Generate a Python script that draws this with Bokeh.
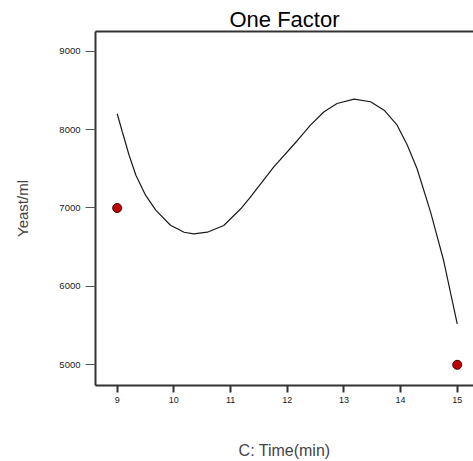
from bokeh.plotting import figure
from bokeh.models import FixedTicker, LinearAxis, Range1d
from bokeh.embed import file_html
from bokeh.resources import INLINE

# Fitted response curve
curve_x = [9.00, 9.09, 9.21, 9.33, 9.50, 9.68, 9.94, 10.18, 10.35, 10.59, 10.88,
           11.18, 11.35, 11.76, 12.18, 12.41, 12.65, 12.88, 13.18, 13.47, 13.71,
           13.94, 14.12, 14.29, 14.53, 14.76, 15.00]
curve_y = [8202, 7972, 7673, 7418, 7163, 6972, 6780, 6691, 6671, 6691, 6777,
           6990, 7138, 7520, 7861, 8056, 8227, 8333, 8388, 8355, 8247,
           8056, 7801, 7504, 6947, 6330, 5523]

# Design points
point_x = [9, 15]
point_y = [7000, 5000]

x_ticks = [9, 10, 11, 12, 13, 14, 15]
y_ticks = [5000, 6000, 7000, 8000, 9000]

FONT = "Liberation Sans"
AX = "#333333"

p = figure(frame_width=378, frame_height=354, output_backend="svg", toolbar_location=None,
           x_range=Range1d(8.617, 15.287), y_range=Range1d(4736, 9251),
           min_border_left=95, min_border_right=0, min_border_top=31, min_border_bottom=76)
p.title.text = "One Factor"
p.title.align = "center"
p.title.text_font = FONT
p.title.text_font_size = "22px"
p.title.text_font_style = "normal"
p.title.text_color = "#000000"
p.title.standoff = 0
p.outline_line_color = None
p.grid.visible = False
p.background_fill_color = "white"

xa = p.xaxis[0]
xa.ticker = FixedTicker(ticks=x_ticks)
xa.axis_label = "C: Time(min)"
xa.axis_label_text_font = FONT
xa.axis_label_text_font_size = "16px"
xa.axis_label_text_font_style = "normal"
xa.axis_label_standoff = 36
xa.major_label_text_font = FONT
xa.major_label_text_font_size = "9px"
xa.major_label_text_color = "#222222"
xa.major_label_standoff = 4
xa.major_tick_out = 7
xa.major_tick_in = 0
xa.minor_tick_line_color = None
xa.axis_line_width = 2
xa.axis_line_color = AX
xa.major_tick_line_color = AX
xa.major_tick_line_width = 2

ya = p.yaxis[0]
ya.ticker = FixedTicker(ticks=y_ticks)
ya.axis_label = "Yeast/ml"
ya.axis_label_text_font = FONT
ya.axis_label_text_font_size = "15px"
ya.axis_label_text_font_style = "normal"
ya.axis_label_standoff = 25
ya.major_label_text_font = FONT
ya.major_label_text_font_size = "9.5px"
ya.major_label_text_color = "#222222"
ya.major_label_standoff = 5
ya.major_tick_out = 10
ya.major_tick_in = 0
ya.minor_tick_line_color = None
ya.axis_line_width = 2
ya.axis_line_color = AX
ya.major_tick_line_color = "#555555"
ya.major_tick_line_width = 1

top = LinearAxis(ticker=FixedTicker(ticks=[]), axis_line_width=2, axis_line_color=AX,
                 major_label_text_font_size="0px", major_tick_line_color=None,
                 minor_tick_line_color=None)
p.add_layout(top, "above")

p.line(curve_x, curve_y, line_color="#1a1a1a", line_width=1.2)
p.scatter(point_x, point_y, size=9, fill_color="#c00000", line_color="#400000", line_width=1)

open("out.html", "w").write(file_html(p, INLINE))
